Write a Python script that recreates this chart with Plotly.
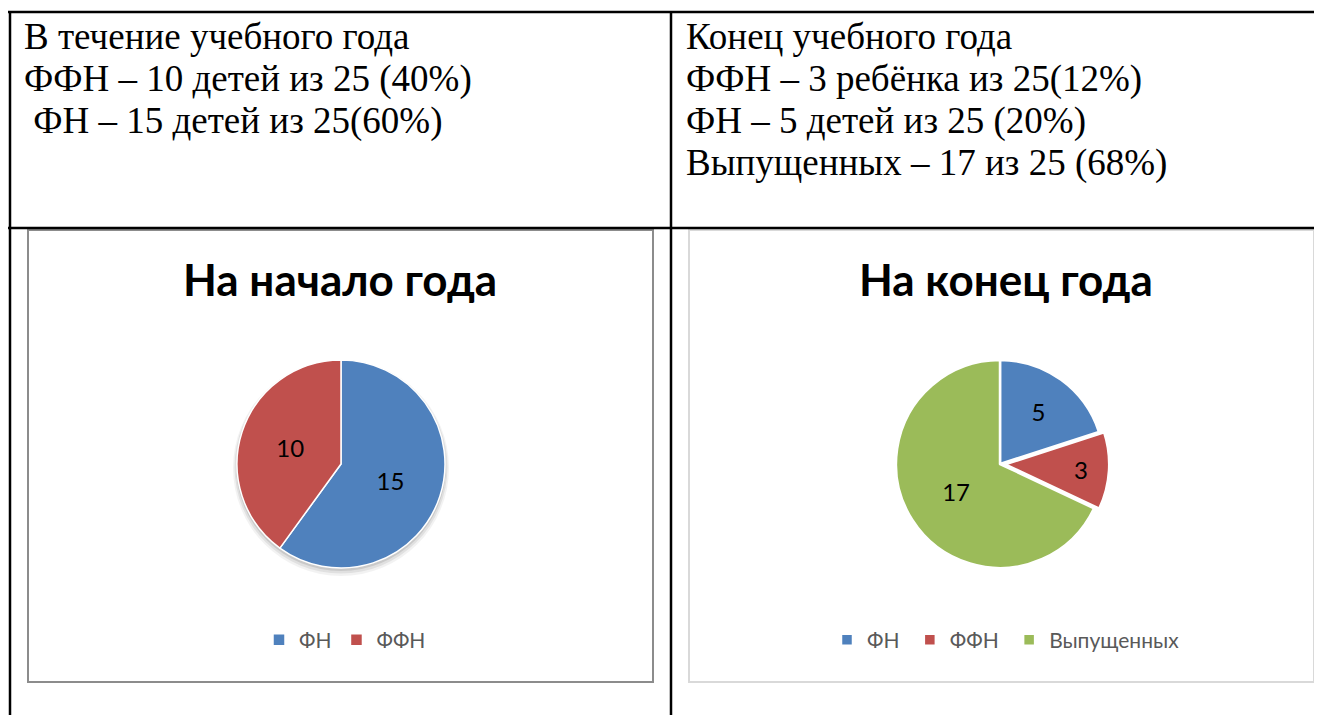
import plotly.graph_objects as go

# page is 1322x715; body margin of 8px shifts the figure, so the figure is smaller
OFF = 8
W, H = 1322 - OFF, 715 - OFF

# ---- data ----
left_labels = ["ФН", "ФФН"]
left_values = [15, 10]
# trailing space keeps these legend entries separate from the left chart's legend
right_labels = ["ФН ", "ФФН ", "Выпущенных"]
right_values = [5, 3, 17]
right_pull = [0, 0.05, 0]
colors = ["#4F81BD", "#C0504D", "#9BBB59"]

left_title = "На начало года"
right_title = "На конец года"
left_text = ["В течение учебного года",
             "ФФН – 10 детей из 25 (40%)",
             " ФН – 15 детей из 25(60%)"]
right_text = ["Конец учебного года",
              "ФФН – 3 ребёнка из 25(12%)",
              "ФН – 5 детей из 25 (20%)",
              "Выпущенных – 17 из 25 (68%)"]


def px(x):
    return (x - OFF) / W


def py(y):
    return 1 - (y - OFF) / H


fig = go.Figure()

label_font = dict(family="Lato", size=24, color="black")

# left pie: center (341,464), r 104
cx, cy, r = 341, 464, 104
fig.add_trace(go.Pie(
    labels=left_labels, values=left_values, sort=False, direction="clockwise",
    rotation=0, marker=dict(colors=colors[:2], line=dict(color="white", width=1.5)),
    textinfo="value", textposition="inside", insidetextorientation="horizontal",
    textfont=label_font,
    domain=dict(x=[px(cx - r), px(cx + r)], y=[py(cy + r), py(cy - r)]),
    legend="legend", hoverinfo="label+value+percent",
))

# right pie: center (1000,464), r 104, with pull
cx2, cy2, r2 = 1000, 464, 104
R2 = r2 * (1 + max(right_pull))
fig.add_trace(go.Pie(
    labels=right_labels, values=right_values, sort=False, direction="clockwise",
    rotation=0, pull=right_pull,
    marker=dict(colors=colors, line=dict(color="white", width=2.5)),
    textinfo="value", textposition="inside", insidetextorientation="horizontal",
    textfont=label_font,
    domain=dict(x=[px(cx2 - R2), px(cx2 + R2)], y=[py(cy2 + R2), py(cy2 - R2)]),
    legend="legend2", hoverinfo="label+value+percent",
))

shapes = []
# soft shadow under the left pie
for grow, dy, alpha in [(4, 4, 0.05), (2.5, 3, 0.07), (1, 2, 0.10)]:
    shapes.append(dict(type="circle", xref="paper", yref="paper",
                       x0=px(cx - r - grow), x1=px(cx + r + grow),
                       y0=py(cy + dy + r + grow), y1=py(cy + dy - r - grow),
                       line=dict(width=0), fillcolor="rgba(0,0,0,%s)" % alpha, layer="below"))
# table lines
line_black = dict(color="black", width=2.5)
shapes.append(dict(type="line", xref="paper", yref="paper", x0=px(8), x1=1, y0=py(12), y1=py(12), line=line_black))
shapes.append(dict(type="line", xref="paper", yref="paper", x0=px(8), x1=1, y0=py(228), y1=py(228), line=line_black))
shapes.append(dict(type="line", xref="paper", yref="paper", x0=px(10), x1=px(10), y0=py(11), y1=0, line=line_black))
shapes.append(dict(type="line", xref="paper", yref="paper", x0=px(671), x1=px(671), y0=py(11), y1=0, line=line_black))
# chart boxes
shapes.append(dict(type="rect", xref="paper", yref="paper", x0=px(28), x1=px(653), y0=py(682), y1=py(230),
                   line=dict(color="#8C8C8C", width=2), layer="below"))
shapes.append(dict(type="rect", xref="paper", yref="paper", x0=px(689), x1=px(1314), y0=py(682), y1=py(230),
                   line=dict(color="#D9D9D9", width=2), layer="below"))

annotations = []
serif = dict(family="Liberation Serif", size=37, color="black")
for i, t in enumerate(left_text):
    annotations.append(dict(text=t, x=px(22), y=py(37 + 42 * i), xref="paper", yref="paper",
                            xanchor="left", yanchor="middle", showarrow=False, font=serif))
for i, t in enumerate(right_text):
    annotations.append(dict(text=t, x=px(684), y=py(37 + 42 * i), xref="paper", yref="paper",
                            xanchor="left", yanchor="middle", showarrow=False, font=serif))
title_font = dict(family="Lato", size=44, color="black")
annotations.append(dict(text="<b>%s</b>" % left_title, x=px(340), y=py(279), xref="paper", yref="paper",
                        xanchor="center", yanchor="middle", showarrow=False, font=title_font))
annotations.append(dict(text="<b>%s</b>" % right_title, x=px(1006), y=py(279), xref="paper", yref="paper",
                        xanchor="center", yanchor="middle", showarrow=False, font=title_font))

legend_font = dict(family="Lato", size=21, color="#595959")
fig.update_layout(
    width=W, height=H, margin=dict(l=0, r=0, t=0, b=0),
    paper_bgcolor="white", plot_bgcolor="white",
    shapes=shapes, annotations=annotations,
    legend=dict(orientation="h", x=px(345), y=py(640), xanchor="center", yanchor="middle",
                font=legend_font, bgcolor="rgba(0,0,0,0)", itemwidth=30),
    legend2=dict(orientation="h", x=px(1006), y=py(640), xanchor="center", yanchor="middle",
                 font=legend_font, bgcolor="rgba(0,0,0,0)", itemwidth=30),
    showlegend=True,
)

fig.write_html("out.html")
